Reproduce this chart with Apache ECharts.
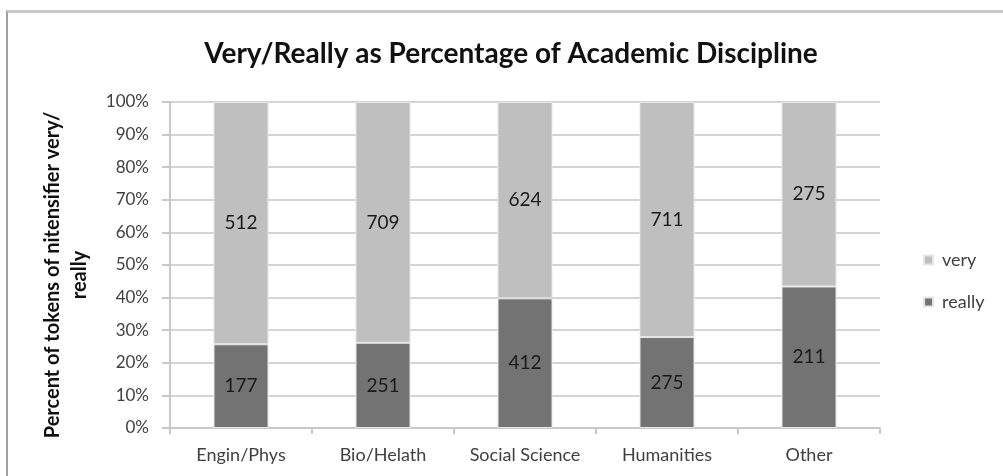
<!DOCTYPE html>
<html>
<head>
<meta charset="utf-8">
<script src="https://cdn.jsdelivr.net/npm/echarts@6/dist/echarts.min.js"></script>
<style>
  html, body { margin: 0; padding: 0; background: #fff; }
  #frame {
    position: absolute; left: 6px; top: 10px; width: 1010px; height: 480px;
    border-top: 3px solid #c8c8c8; border-left: 2px solid #a0a0a0;
  }
  #chart-container { position: absolute; left: 0; top: 0; width: 1003px; height: 476px; }
</style>
</head>
<body>
<div id="frame"></div>
<div id="chart-container"></div>
<script>
var categories = ['Engin/Phys', 'Bio/Helath', 'Social Science', 'Humanities', 'Other'];
var reallyCounts = [177, 251, 412, 275, 211];
var veryCounts = [512, 709, 624, 711, 275];
var yTicks = [0, 10, 20, 30, 40, 50, 60, 70, 80, 90, 100];

// share of each discipline, in percent
var reallyPct = reallyCounts.map(function (v, i) { return v / (v + veryCounts[i]) * 100; });
var veryPct = veryCounts.map(function (v, i) { return v / (v + reallyCounts[i]) * 100; });

var myChart = echarts.init(document.getElementById('chart-container'));

var font = 'Lato';

option = {
    animation: false,
    title: {
        text: 'Very/Really as Percentage of Academic Discipline',
        top: 35,
        left: 506,
        textAlign: 'center',
        textStyle: { fontFamily: font, fontSize: 28, fontWeight: 'bold', color: '#111' }
    },
    legend: {
        orient: 'vertical',
        left: 918,
        top: 245,
        itemWidth: 9,
        itemHeight: 9,
        itemGap: 22,
        icon: 'rect',
        data: ['very', 'really'],
        textStyle: { fontFamily: font, fontSize: 18, lineHeight: 20, color: '#404040', padding: [0, 0, 0, 4] }
    },
    grid: {
        left: 170,
        top: 102,
        right: 123,
        bottom: 48
    },
    xAxis: {
        type: 'category',
        data: categories,
        axisLine: { lineStyle: { color: '#c8c8c8', width: 2 } },
        axisTick: { show: true, length: 6, lineStyle: { color: '#c8c8c8', width: 2 } },
        axisLabel: { interval: 0, margin: 18, fontFamily: font, fontSize: 18, color: '#404040' }
    },
    yAxis: {
        type: 'value',
        min: yTicks[0],
        max: yTicks[yTicks.length - 1],
        interval: 10,
        name: 'Percent of tokens of nitensifier very/\nreally',
        nameLocation: 'middle',
        nameRotate: 90,
        nameGap: 77,
        nameTextStyle: { fontFamily: font, fontSize: 20, fontWeight: 'bold', color: '#111', lineHeight: 27, padding: [0, 20, 0, 0] },
        axisLine: { show: true, lineStyle: { color: '#c8c8c8', width: 2 } },
        axisTick: { show: true, length: 8, lineStyle: { color: '#c8c8c8', width: 2 } },
        axisLabel: { margin: 21, fontFamily: font, fontSize: 17, color: '#404040', formatter: '{value}%' },
        splitLine: { lineStyle: { color: '#d4d4d4', width: 2 } }
    },
    series: [
        {
            name: 'really',
            type: 'bar',
            stack: 'total',
            barWidth: 55,
            data: reallyPct,
            itemStyle: { color: '#737373', borderColor: '#e6e6e6', borderWidth: 1 },
            label: {
                show: true,
                position: 'inside',
                fontFamily: font,
                fontSize: 19,
                color: '#1a1a1a',
                formatter: function (p) { return reallyCounts[p.dataIndex]; }
            }
        },
        {
            name: 'very',
            type: 'bar',
            stack: 'total',
            barWidth: 55,
            data: veryPct,
            itemStyle: { color: '#bfbfbf', borderColor: '#e6e6e6', borderWidth: 1 },
            label: {
                show: true,
                position: 'inside',
                fontFamily: font,
                fontSize: 19,
                color: '#1a1a1a',
                formatter: function (p) { return veryCounts[p.dataIndex]; }
            }
        }
    ]
};

myChart.setOption(option);
</script>
</body>
</html>
